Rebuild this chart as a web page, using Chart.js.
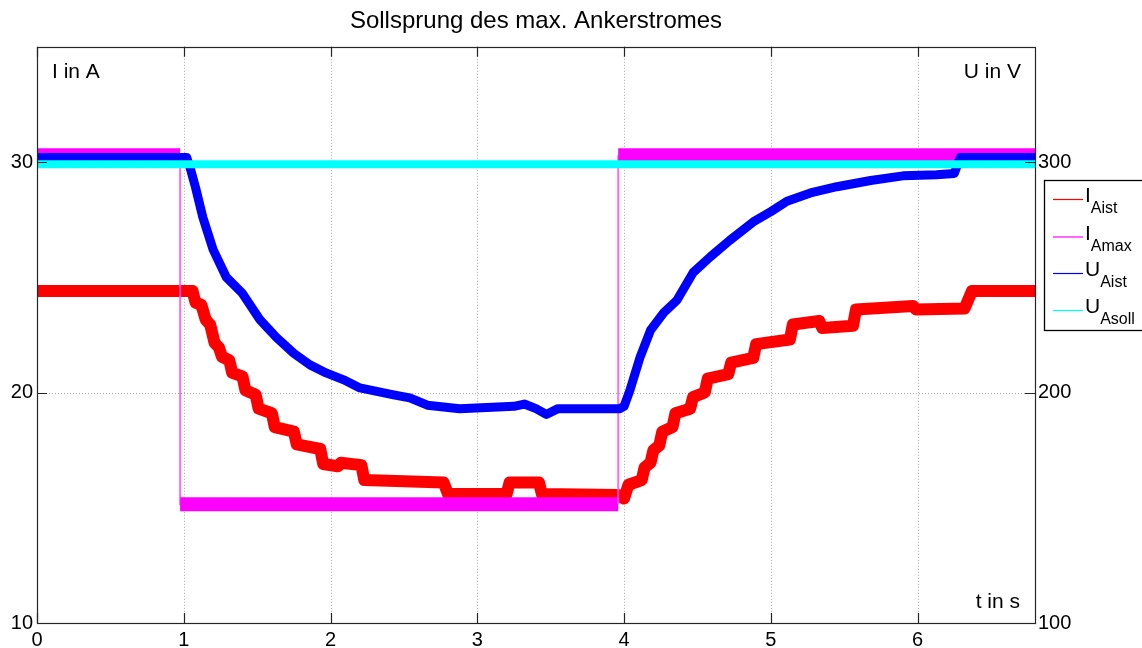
<!DOCTYPE html>
<html>
<head>
<meta charset="utf-8">
<script src="https://cdn.jsdelivr.net/npm/chart.js@4/dist/chart.umd.min.js"></script>
<style>
html,body{margin:0;padding:0;background:#fff;}
#wrap{position:relative;width:1142px;height:648px;}
</style>
</head>
<body>
<div id="wrap"><canvas id="c" width="1142" height="648"></canvas></div>
<script>
// ---- data ----
const titleText = 'Sollsprung des max. Ankerstromes';
const xTicks = [0, 1, 2, 3, 4, 5, 6];
const yLeftTicks = [10, 20, 30];
const yRightTicks = [100, 200, 300];

// I_Aist (A)
const tIAist = [0, 1.06, 1.08, 1.12, 1.15, 1.18, 1.21, 1.24, 1.26, 1.31, 1.33, 1.40, 1.42, 1.49, 1.51, 1.60, 1.62, 1.75, 1.77, 1.93, 1.95, 2.05, 2.07, 2.21, 2.23, 2.77, 2.80, 3.20, 3.22, 3.42, 3.44, 3.96, 4.00, 4.03, 4.12, 4.14, 4.18, 4.20, 4.24, 4.26, 4.33, 4.35, 4.45, 4.47, 4.55, 4.57, 4.71, 4.73, 4.88, 4.90, 5.13, 5.15, 5.33, 5.35, 5.56, 5.58, 5.97, 5.99, 6.32, 6.37, 6.8];
const vIAist = [24.4, 24.4, 23.9, 23.8, 23.15, 22.95, 22.15, 21.95, 21.55, 21.4, 20.85, 20.7, 20.1, 19.9, 19.3, 19.1, 18.5, 18.3, 17.75, 17.55, 16.9, 16.8, 16.95, 16.85, 16.2, 16.1, 15.6, 15.6, 16.1, 16.1, 15.6, 15.55, 15.4, 16.0, 16.2, 16.75, 16.95, 17.5, 17.7, 18.3, 18.5, 19.1, 19.3, 19.8, 20.0, 20.6, 20.8, 21.3, 21.5, 22.1, 22.3, 22.95, 23.1, 22.8, 22.9, 23.6, 23.75, 23.6, 23.65, 24.4, 24.4];

// I_Amax (A)
const tIAmax = [0, 0.975, 0.975, 3.96, 3.96, 6.8];
const vIAmax = [30.3, 30.3, 15.15, 15.15, 30.3, 30.3];

// U_Aist (V)
const tUAist = [0, 1.02, 1.05, 1.08, 1.13, 1.20, 1.29, 1.40, 1.52, 1.63, 1.75, 1.86, 1.97, 2.09, 2.20, 2.43, 2.54, 2.66, 2.88, 3.25, 3.32, 3.40, 3.47, 3.55, 3.97, 4.0, 4.04, 4.11, 4.18, 4.27, 4.36, 4.47, 4.59, 4.72, 4.88, 5.0, 5.11, 5.27, 5.45, 5.68, 5.90, 6.13, 6.25, 6.29, 6.8];
const vUAist = [302, 302, 296, 289, 276, 262, 250, 243, 231.5, 224, 217, 212, 208.5, 205.5, 202, 199, 197.7, 194.5, 193, 194, 195, 193, 190.5, 193, 193, 194, 201, 215.5, 227, 234.6, 240, 252, 259, 266, 274, 278.5, 283, 286.6, 289.3, 292, 294, 294.5, 295, 302, 302];

// U_Asoll (V)
const tUAsoll = [0, 6.8];
const vUAsoll = [299, 299];

const seriesMain = ['I', 'I', 'U', 'U'];
const seriesSub = ['Aist', 'Amax', 'Aist', 'Asoll'];
const seriesColors = ['#ff0000', '#ff00ff', '#0000ff', '#00ffff'];

// ---- helpers ----
const pts = (xs, ys) => xs.map((x, i) => ({x: x, y: ys[i]}));
const FONT = '"Liberation Sans", Arial, Helvetica, sans-serif';

const decorPlugin = {
  id: 'decor',
  beforeDatasetsDraw(chart) {
    const {ctx, chartArea: a, scales} = chart;
    ctx.save();
    ctx.strokeStyle = '#a8a8a8';
    ctx.lineWidth = 1;
    ctx.setLineDash([1, 2]);
    xTicks.forEach(v => {
      if (v <= 0) return;
      const x = Math.round(scales.x.getPixelForValue(v)) + 0.5;
      ctx.beginPath(); ctx.moveTo(x, a.top); ctx.lineTo(x, a.bottom); ctx.stroke();
    });
    yLeftTicks.forEach(v => {
      if (v <= 10) return;
      const y = Math.round(scales.yI.getPixelForValue(v)) + 0.5;
      ctx.beginPath(); ctx.moveTo(a.left, y); ctx.lineTo(a.right, y); ctx.stroke();
    });
    ctx.restore();
  },
  afterDatasetsDraw(chart) {
    const {ctx, chartArea: a, scales} = chart;
    ctx.save();
    ctx.setLineDash([]);
    ctx.strokeStyle = '#262626';
    ctx.lineWidth = 1.2;
    ctx.strokeRect(Math.round(a.left) + 0.5, Math.round(a.top) + 0.5, Math.round(a.right - a.left), Math.round(a.bottom - a.top));
    const tl = 10;
    ctx.beginPath();
    xTicks.forEach(v => {
      const x = Math.round(scales.x.getPixelForValue(v)) + 0.5;
      ctx.moveTo(x, a.bottom); ctx.lineTo(x, a.bottom - tl);
      ctx.moveTo(x, a.top); ctx.lineTo(x, a.top + tl);
    });
    yLeftTicks.forEach(v => {
      const y = Math.round(scales.yI.getPixelForValue(v)) + 0.5;
      ctx.moveTo(a.left, y); ctx.lineTo(a.left + tl, y);
    });
    yRightTicks.forEach(v => {
      const y = Math.round(scales.yU.getPixelForValue(v)) + 0.5;
      ctx.moveTo(a.right, y); ctx.lineTo(a.right - tl, y);
    });
    ctx.stroke();

    // axis-unit labels inside the plot
    ctx.fillStyle = '#000';
    ctx.font = '21px ' + FONT;
    ctx.textBaseline = 'alphabetic';
    ctx.textAlign = 'left';
    ctx.fillText('I in A', a.left + 15, a.top + 31);
    ctx.textAlign = 'right';
    ctx.fillText('U in V', a.right - 14, a.top + 31);
    ctx.fillText('t in s', a.right - 15, a.bottom - 15);

    // legend (outside right)
    const lx = 1044, ly = 180, lw = 110, lh = 150;
    ctx.strokeStyle = '#000';
    ctx.lineWidth = 1.3;
    ctx.strokeRect(lx + 0.5, ly + 0.5, lw, lh);
    const rowY = [199, 236.5, 273, 310];
    seriesMain.forEach((m, i) => {
      const y = rowY[i];
      ctx.strokeStyle = seriesColors[i];
      ctx.lineWidth = 1.2;
      ctx.beginPath(); ctx.moveTo(1053, y + 0.5); ctx.lineTo(1083, y + 0.5); ctx.stroke();
      ctx.fillStyle = '#000';
      ctx.textAlign = 'left';
      ctx.font = '21px ' + FONT;
      ctx.fillText(m, 1085, y + 3);
      const w = ctx.measureText(m).width;
      ctx.font = '16px ' + FONT;
      ctx.fillText(seriesSub[i], 1085 + w, y + 14);
    });
    ctx.restore();
  }
};

const magentaWidth = c => (c.p0.parsed.x === c.p1.parsed.x ? 2 : 14);
const magentaColor = c => (c.p0.parsed.x === c.p1.parsed.x ? 'rgba(255,80,255,0.85)' : '#ff00ff');

new Chart(document.getElementById('c'), {
  type: 'line',
  data: {
    datasets: [
      {label: 'I_Aist', data: pts(tIAist, vIAist), yAxisID: 'yI', borderColor: seriesColors[0], borderWidth: 12, order: 4},
      {label: 'I_Amax', data: pts(tIAmax, vIAmax), yAxisID: 'yI', borderColor: seriesColors[1], borderWidth: 14, order: 3,
        segment: {borderWidth: magentaWidth, borderColor: magentaColor}},
      {label: 'U_Aist', data: pts(tUAist, vUAist), yAxisID: 'yU', borderColor: seriesColors[2], borderWidth: 9, order: 2},
      {label: 'U_Asoll', data: pts(tUAsoll, vUAsoll), yAxisID: 'yU', borderColor: seriesColors[3], borderWidth: 8, order: 1}
    ]
  },
  options: {
    responsive: false,
    animation: false,
    events: [],
    elements: {
      point: {radius: 0},
      line: {tension: 0, borderJoinStyle: 'round', borderCapStyle: 'butt', fill: false}
    },
    layout: {padding: 0},
    plugins: {
      legend: {display: false},
      tooltip: {enabled: false},
      title: {
        display: true, text: titleText, fullSize: false, color: '#000',
        font: {family: FONT, size: 24, weight: 'normal', lineHeight: 1.2},
        padding: {top: 7, bottom: 11}
      }
    },
    scales: {
      x: {
        type: 'linear', position: 'bottom', min: 0, max: 6.8,
        afterBuildTicks: s => { s.ticks = xTicks.map(v => ({value: v})); },
        ticks: {color: '#000', font: {family: FONT, size: 20}, padding: 5, maxRotation: 0, autoSkip: false},
        grid: {display: false, drawTicks: false},
        border: {display: false},
        afterFit: s => { s.height = 25; }
      },
      yI: {
        type: 'linear', position: 'left', min: 10, max: 35,
        afterBuildTicks: s => { s.ticks = yLeftTicks.map(v => ({value: v})); },
        ticks: {color: '#000', font: {family: FONT, size: 20}, padding: 4},
        grid: {display: false, drawTicks: false},
        border: {display: false},
        afterFit: s => { s.width = 37; }
      },
      yU: {
        type: 'linear', position: 'right', min: 100, max: 350,
        afterBuildTicks: s => { s.ticks = yRightTicks.map(v => ({value: v})); },
        ticks: {color: '#000', font: {family: FONT, size: 20}, padding: 3},
        grid: {display: false, drawTicks: false},
        border: {display: false},
        afterFit: s => { s.width = 107; }
      }
    }
  },
  plugins: [decorPlugin]
});
</script>
</body>
</html>
